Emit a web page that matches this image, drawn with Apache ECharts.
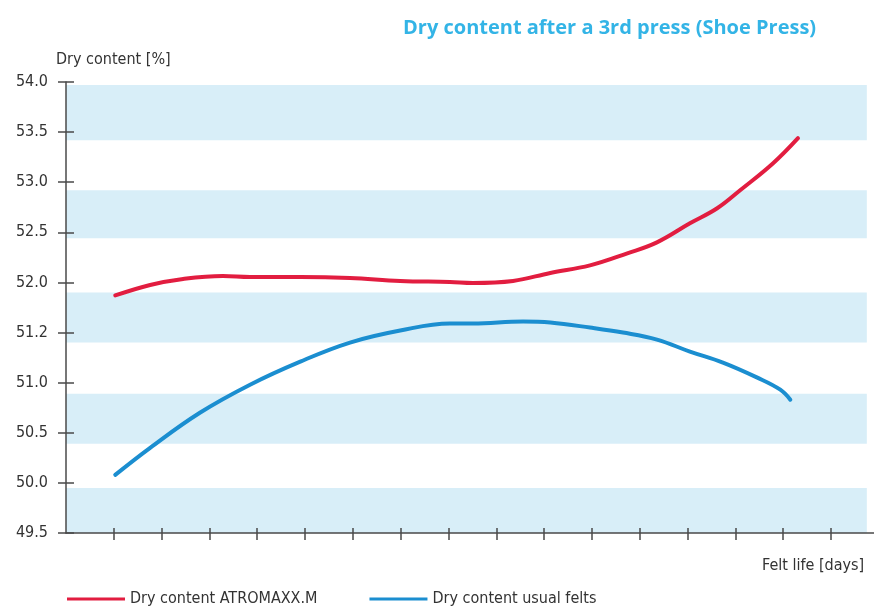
<!DOCTYPE html>
<html>
<head>
<meta charset="utf-8">
<script src="https://cdn.jsdelivr.net/npm/echarts@6/dist/echarts.min.js"></script>
<style>
	html, body { margin: 0; padding: 0; background: #fff; }
	#chart { width: 874px; height: 610px; }
</style>
</head>
<body>
<div id="chart"></div>
<script>
// felt life in days (x) and dry content in % (y)
var atroDays = [1.03, 1.76, 2.45, 3.28, 3.85, 4.9, 5.94, 6.99, 8.03, 8.51, 9.35, 10.13, 10.96, 11.74, 12.36, 13.05, 13.62, 14.1, 14.79, 15.31];
var atroValues = [51.87, 51.975, 52.035, 52.065, 52.055, 52.055, 52.045, 52.015, 52.005, 51.995, 52.015, 52.095, 52.17, 52.29, 52.40, 52.59, 52.74, 52.92, 53.19, 53.44];
var usualDays = [1.03, 1.76, 2.8, 3.85, 4.9, 5.94, 6.99, 8.03, 8.51, 9.56, 10.13, 10.96, 11.65, 12.36, 13.05, 13.74, 14.46, 14.94, 15.15];
var usualValues = [50.08, 50.35, 50.70, 50.98, 51.21, 51.40, 51.52, 51.59, 51.59, 51.61, 51.60, 51.55, 51.50, 51.43, 51.31, 51.20, 51.05, 50.93, 50.83];

// y tick labels as printed (the 51.5 tick is labelled 51.2 in the original)
var yTickLabels = ['49.5', '50.0', '50.5', '51.0', '51.2', '52.0', '52.5', '53.0', '53.5', '54.0'];
var xTicks = [1, 2, 3, 4, 5, 6, 7, 8, 9, 10, 11, 12, 13, 14, 15, 16];

// light blue highlighter bands [low, high]
var bandLow = [49.5, 50.39, 51.4, 52.44, 53.42];
var bandHigh = [49.95, 50.89, 51.9, 52.92, 53.97];
var bandEnd = 16.75;

var seriesNames = ['Dry content ATROMAXX.M', 'Dry content usual felts'];

var FONT = "'Liberation Sans Narrow', 'DejaVu Sans Condensed', 'Open Sans', sans-serif";

function pairs(xs, ys) {
	return xs.map(function(x, i) { return [x, ys[i]]; });
}

var bands = bandLow.map(function(lo, i) {
	return [{ xAxis: 0, yAxis: lo }, { xAxis: bandEnd, yAxis: bandHigh[i] }];
});

var myChart = echarts.init(document.getElementById('chart'));
var axisColor = '#4a4a4a';

var option = {
	backgroundColor: '#ffffff',
	animation: false,
	title: {
		text: 'Dry content after a 3rd press (Shoe Press)',
		left: 398,
		top: 13,
		textStyle: {
			color: '#33b4e6',
			fontFamily: "'Open Sans', sans-serif",
			fontWeight: 'bold',
			fontSize: 20
		}
	},
	legend: {
		left: 62,
		top: 586,
		itemWidth: 58,
		itemHeight: 3,
		itemGap: 52,
		icon: 'rect',
		textStyle: { color: '#333', fontFamily: FONT, fontSize: 16 },
		data: seriesNames
	},
	grid: { left: 66, right: 0, top: 82, bottom: 77, containLabel: false },
	xAxis: [{
		type: 'value',
		min: 0,
		max: 16.9,
		interval: 1,
		z: 10,
		name: 'Felt life [days]',
		nameLocation: 'end',
		nameGap: -112,
		nameTextStyle: { color: '#333', fontFamily: FONT, fontSize: 16, align: 'left', verticalAlign: 'top', padding: [25, 0, 0, 0] },
		axisLine: { lineStyle: { color: axisColor, width: 1.5 } },
		axisTick: { show: true, length: 7, customValues: xTicks, lineStyle: { color: axisColor, width: 1.5 } },
		axisLabel: { show: false },
		splitLine: { show: false }
	}, {
		type: 'value',
		position: 'bottom',
		min: 0,
		max: 16.9,
		interval: 1,
		z: 10,
		axisLine: { show: false },
		axisTick: { show: true, inside: true, length: 5, customValues: xTicks, lineStyle: { color: axisColor, width: 1.5 } },
		axisLabel: { show: false },
		splitLine: { show: false }
	}],
	yAxis: [{
		type: 'value',
		min: 49.5,
		max: 54,
		interval: 0.5,
		z: 10,
		name: 'Dry content [%]',
		nameLocation: 'end',
		nameGap: 14,
		nameTextStyle: { color: '#333', fontFamily: FONT, fontSize: 16, align: 'left', padding: [0, 0, 0, -10] },
		axisLine: { show: true, lineStyle: { color: axisColor, width: 1.5 } },
		axisTick: { show: true, length: 8, lineStyle: { color: axisColor, width: 1.5 } },
		axisLabel: {
			color: '#333',
			fontFamily: FONT,
			fontSize: 16,
			margin: 18,
			formatter: function(v, i) { return yTickLabels[i]; }
		},
		splitLine: { show: false }
	}, {
		type: 'value',
		position: 'left',
		min: 49.5,
		max: 54,
		interval: 0.5,
		z: 10,
		axisLine: { show: false },
		axisTick: { show: true, inside: true, length: 8, lineStyle: { color: axisColor, width: 1.5 } },
		axisLabel: { show: false },
		splitLine: { show: false }
	}],
	series: [{
		name: seriesNames[0],
		type: 'line',
		smooth: 0.4,
		showSymbol: false,
		data: pairs(atroDays, atroValues),
		lineStyle: { color: '#e21d40', width: 4, cap: 'round' },
		itemStyle: { color: '#e21d40' },
		z: 3,
		markArea: {
			silent: true,
			itemStyle: { color: '#d8eef8' },
			data: bands
		}
	}, {
		name: seriesNames[1],
		type: 'line',
		smooth: 0.4,
		showSymbol: false,
		data: pairs(usualDays, usualValues),
		lineStyle: { color: '#1b8ed0', width: 4, cap: 'round' },
		itemStyle: { color: '#1b8ed0' },
		z: 3
	}]
};
myChart.setOption(option);
</script>
</body>
</html>
